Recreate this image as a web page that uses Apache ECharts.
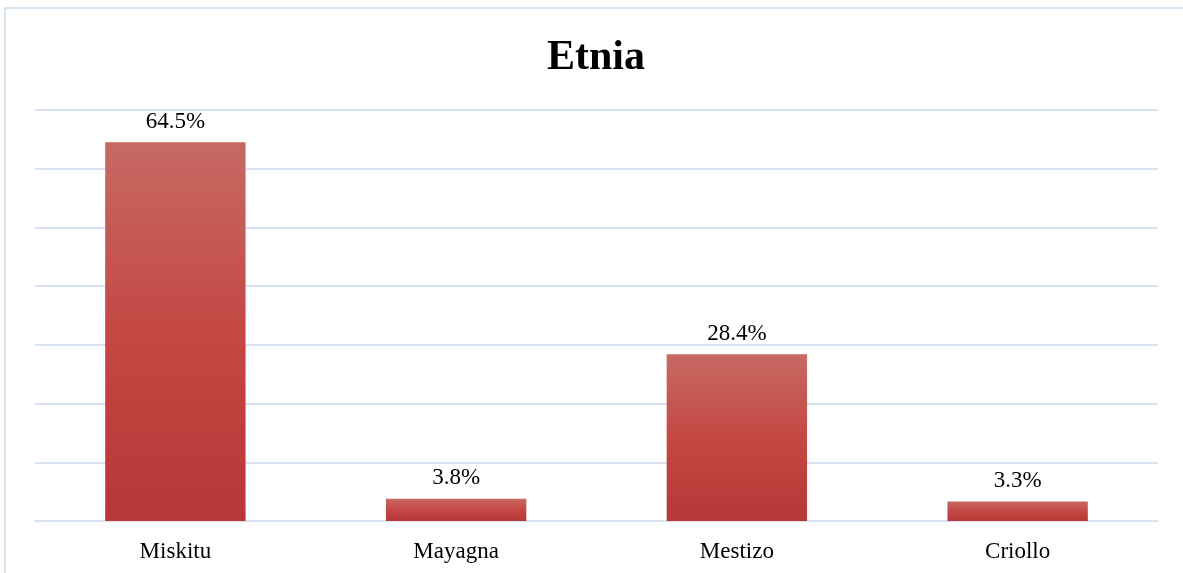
<!DOCTYPE html>
<html>
<head>
<meta charset="utf-8">
<script src="https://cdn.jsdelivr.net/npm/echarts@6/dist/echarts.min.js"></script>
<style>
  html, body { margin: 0; padding: 0; background: #fff; }
  #chart { width: 1183px; height: 573px; }
</style>
</head>
<body>
<div id="chart"></div>
<script>
  // datos
  var categories = ['Miskitu', 'Mayagna', 'Mestizo', 'Criollo']
  var values = [64.5, 3.8, 28.4, 3.3]

  var chart = echarts.init(document.getElementById('chart'))
  var serif = '"Liberation Serif", "DejaVu Serif", serif'

  chart.setOption({
    backgroundColor: '#fff',
    animation: false,
    title: {
      text: 'Etnia',
      left: 542,
      top: 32,
      textStyle: { fontFamily: serif, fontWeight: 'bold', fontSize: 42, color: '#000' }
    },
    graphic: [{
      type: 'rect',
      shape: { x: 5, y: 8, width: 1200, height: 600 },
      style: { fill: 'none', stroke: '#d6e3f3', lineWidth: 2 },
      silent: true
    }],
    grid: { left: 35, right: 25, top: 110, bottom: 52 },
    xAxis: {
      type: 'category',
      data: categories,
      axisLine: { lineStyle: { color: '#d9e2f0', width: 2 } },
      axisTick: { show: false },
      axisLabel: { fontFamily: serif, fontSize: 23, color: '#000', margin: 19 }
    },
    yAxis: {
      type: 'value',
      min: 0,
      max: 70,
      interval: 10,
      axisLabel: { show: false },
      axisLine: { show: false },
      axisTick: { show: false },
      splitLine: { lineStyle: { color: '#d9e2f0', width: 2 } }
    },
    series: [{
      type: 'bar',
      data: values,
      barWidth: '50%',
      itemStyle: {
        color: new echarts.graphic.LinearGradient(0, 0, 0, 1, [
          { offset: 0, color: '#c76963' },
          { offset: 0.5, color: '#c44844' },
          { offset: 1, color: '#b63837' }
        ])
      },
      label: {
        show: true,
        position: 'top',
        distance: 9,
        formatter: function (p) { return p.value.toFixed(1) + '%' },
        fontFamily: serif,
        fontSize: 23,
        color: '#000'
      }
    }]
  })
</script>
</body>
</html>
